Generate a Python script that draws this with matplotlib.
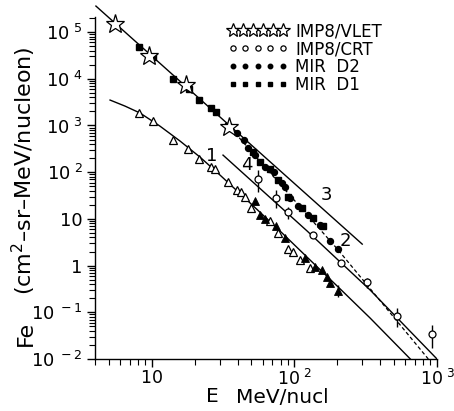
import matplotlib
matplotlib.use('Agg')
import matplotlib.pyplot as plt
from matplotlib.legend_handler import HandlerLine2D
from matplotlib.ticker import LogLocator, NullFormatter

# ---------------- data ----------------
star_E = [5.5, 9.6, 17.4, 34.9]
star_F = [1.48e5, 3.06e4, 7.3e3, 925]

crt_E = [55.7, 74.5, 90.4, 135, 213, 324, 526, 927]
crt_F = [71.1, 27.9, 14.0, 4.50, 1.13, 0.443, 0.083, 0.034]
crt_lo = [37.5, 17.0, 9.9, 4.1, 1.03, 0.33, 0.048, 0.017]
crt_hi = [111, 41.4, 17.9, 4.9, 1.24, 0.54, 0.123, 0.053]

d2_E = [39.7, 44.4, 47.4, 53.1, 62.4, 72.1, 82.1, 86.1, 93.4, 106, 125, 152, 178, 203]
d2_F = [687, 487, 328, 232, 128, 100, 58.5, 48.0, 27.9, 18.8, 12.1, 7.36, 3.35, 2.25]

d1_E = [8.15, 10.2, 14.1, 18.3, 21.5, 26.1, 28.2, 34.3, 51.4, 57.5, 67.6, 76.9,
        90.4, 113, 135, 159]
d1_F = [4.77e4, 2.92e4, 9.86e3, 6.01e3, 3.50e3, 2.36e3, 1.94e3, 971, 269, 164, 116,
        67.7, 29.3, 17.0, 10.4, 7.0]

tri_open_E = [8.15, 10.2, 14.1, 18.0, 21.5, 26.1, 27.8, 34.3, 39.7, 42.4, 45.2, 49.8,
              67.6, 76.9, 90.4, 98.0, 110, 129]
tri_open_F = [1845, 1242, 487, 313, 191, 128, 116, 61.4, 41.4, 37.5, 29.3, 17.0,
              8.97, 4.97, 2.25, 1.95, 1.31, 0.88]
tri_fill_E = [53.1, 57.5, 62.4, 74.5, 86.1, 119, 140, 157, 170, 178, 203]
tri_fill_F = [24.0, 12.1, 9.9, 7.0, 3.88, 1.45, 0.93, 0.80, 0.57, 0.42, 0.284]
tri_err_E = [203]
tri_err_lo = [0.21]
tri_err_hi = [0.38]

line1_E = [5.10, 6.49, 8.28, 11.4, 15.8, 21.8, 30.1, 49.0, 79.4, 129, 210, 340, 650]
line1_F = [3500, 2600, 1845, 971, 463, 210, 86.7, 21.8, 5.48, 1.31, 0.314, 0.0751, 0.01]
line2_E = [38.4, 203, 869]
line2_F = [687, 2.15, 0.01]
line3_E = [4.06, 299]
line3_F = [3.6e5, 2.88]
line4_E = [31.6, 123, 340, 1000]
line4_F = [232, 5.48, 0.299, 0.01]

curve_labels = ['1', '2', '3', '4']
curve_label_E = [26.5, 227, 167, 46.7]
curve_label_F = [221, 3.35, 32.4, 142]

ytick_vals = [1e-2, 1e-1, 1, 10, 1e2, 1e3, 1e4, 1e5]
ytick_labels = [r'$\mathregular{10}^{\ -2}$', r'$\mathregular{10}^{\ -1}$', '1', '10',
                r'$\mathregular{10}^{\ 2}$', r'$\mathregular{10}^{\ 3}$',
                r'$\mathregular{10}^{\ 4}$', r'$\mathregular{10}^{\ 5}$']
xtick_vals = [10, 100, 1000]
xtick_labels = [r'$\mathregular{10}$', r'$\mathregular{10}^{\ 2}$',
                r'$\mathregular{10}^{\ 3}$']

legend_labels = ['IMP8/VLET', 'IMP8/CRT', 'MIR  D2', 'MIR  D1']

# ---------------- figure ----------------
plt.rcParams['font.family'] = ['DejaVu Sans']
plt.rcParams['mathtext.fontset'] = 'dejavusans'
W, H = 454, 411
fig = plt.figure(figsize=(W / 100, H / 100), dpi=100)
ax = fig.add_axes([95 / W, 1 - 359 / H, 342 / W, 342 / H])
ax.set_xscale('log')
ax.set_yscale('log')
ax.set_xlim(4, 1000)
ax.set_ylim(1e-2, 2.1e5)

lw = 1.0
ax.plot(line1_E, line1_F, color='black', lw=lw)
ax.plot(line2_E, line2_F, color='black', lw=0.9, ls=(0, (3, 2)))
ax.plot(line3_E, line3_F, color='black', lw=lw, clip_on=False)
ax.plot(line4_E, line4_F, color='black', lw=lw)

# error bars
ax.vlines(crt_E, crt_lo, crt_hi, color='black', lw=1.0)
ax.vlines(tri_err_E, tri_err_lo, tri_err_hi, color='black', lw=1.0)

ax.plot(tri_open_E, tri_open_F, ls='none', marker='^', ms=5.5, mfc='white',
        mec='black', mew=0.9)
ax.plot(tri_fill_E, tri_fill_F, ls='none', marker='^', ms=5.5, mfc='black',
        mec='black', mew=0.6)
h_d1, = ax.plot(d1_E, d1_F, ls='none', marker='s', ms=4.3, mfc='black', mec='black')
h_d2, = ax.plot(d2_E, d2_F, ls='none', marker='o', ms=4.3, mfc='black', mec='black')
h_crt, = ax.plot(crt_E, crt_F, ls='none', marker='o', ms=5, mfc='white', mec='black',
                 mew=0.9)
h_star, = ax.plot(star_E, star_F, ls='none', marker='*', ms=14, mfc='white',
                  mec='black', mew=0.9, clip_on=False)

for t, e, f in zip(curve_labels, curve_label_E, curve_label_F):
    ax.text(e, f, t, fontsize=13, ha='center', va='center')

leg = ax.legend([h_star, h_crt, h_d2, h_d1], legend_labels,
                loc='upper left', bbox_to_anchor=(0.388, 0.985), frameon=False,
                numpoints=5, handlelength=3.6, handletextpad=0.45,
                labelspacing=0.0, fontsize=12, borderpad=0, borderaxespad=0,
                markerscale=0.75,
                handler_map={h_star: HandlerLine2D(numpoints=6)})

# axes styling
for s in ['top', 'right']:
    ax.spines[s].set_visible(False)
for s in ['left', 'bottom']:
    ax.spines[s].set_linewidth(1.0)
ax.set_yticks(ytick_vals)
ax.set_yticklabels(ytick_labels)
ax.set_xticks(xtick_vals)
ax.set_xticklabels(xtick_labels)
ax.xaxis.set_minor_locator(LogLocator(base=10, subs=range(2, 10), numticks=20))
ax.yaxis.set_minor_locator(LogLocator(base=10, subs=range(2, 10), numticks=20))
ax.xaxis.set_minor_formatter(NullFormatter())
ax.yaxis.set_minor_formatter(NullFormatter())
ax.tick_params(axis='both', which='major', direction='out', length=6, width=1.0,
               labelsize=13)
ax.tick_params(axis='both', which='minor', direction='out', length=4, width=0.8)
ax.tick_params(axis='x', which='major', pad=1.0, labelsize=12.5)
ax.tick_params(axis='y', which='major', pad=3)

fig.text(24 / W, 1 - 171 / H, r'(cm$^2$–sr–MeV/nucleon)', rotation=90,
         ha='center', va='center', fontsize=16)
fig.text(26 / W, 1 - 333 / H, 'Fe', rotation=90, ha='center', va='center',
         fontsize=16)
fig.text(212 / W, 1 - 396.5 / H, 'E', ha='center', va='center', fontsize=14.5)
fig.text(282 / W, 1 - 397 / H, 'MeV/nucl', ha='center', va='center', fontsize=14.5)

fig.savefig('out.png', dpi=100)
